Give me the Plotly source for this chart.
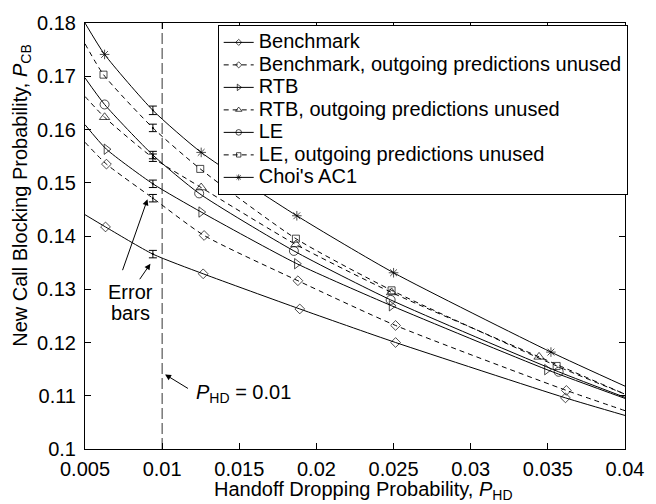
import plotly.graph_objects as go

FONT = "Liberation Sans, Arial, Helvetica, sans-serif"
FS = 20

# ---------------- data ----------------
series_names = [
    "Benchmark",
    "Benchmark, outgoing predictions unused",
    "RTB",
    "RTB, outgoing predictions unused",
    "LE",
    "LE, outgoing predictions unused",
    "Choi's AC1",
]

x_ticks = [0.005, 0.01, 0.015, 0.02, 0.025, 0.03, 0.035, 0.04]
x_tick_labels = ["0.005", "0.01", "0.015", "0.02", "0.025", "0.03", "0.035", "0.04"]
y_ticks = [0.10, 0.11, 0.12, 0.13, 0.14, 0.15, 0.16, 0.17, 0.18]
y_tick_labels = ["0.1", "0.11", "0.12", "0.13", "0.14", "0.15", "0.16", "0.17", "0.18"]

x_left = 0.005
x_right = 0.04
p_hd_target = 0.01
err_x = 0.0094

bench_mx = [0.00633, 0.01266, 0.01892, 0.02513, 0.03614]
bench_my = [0.1417, 0.1329, 0.1263, 0.1200, 0.1096]
bench_nop_mx = [0.00639, 0.01272, 0.0188, 0.02513, 0.0362]
bench_nop_my = [0.1535, 0.1401, 0.1316, 0.1232, 0.1110]
rtb_mx = [0.00639, 0.01253, 0.01873, 0.02487, 0.03494]
rtb_my = [0.1563, 0.1445, 0.1348, 0.1269, 0.1149]
rtb_nop_mx = [0.00627, 0.01253, 0.01867, 0.02487, 0.03443]
rtb_nop_my = [0.1623, 0.1491, 0.1384, 0.1294, 0.1173]
le_mx = [0.00627, 0.0124, 0.01854, 0.02481, 0.0357]
le_my = [0.1647, 0.1480, 0.1372, 0.1280, 0.1145]
le_nop_mx = [0.0062, 0.01247, 0.01867, 0.02487, 0.03557]
le_nop_my = [0.1703, 0.1526, 0.1395, 0.1298, 0.1156]
choi_mx = [0.00627, 0.01253, 0.01873, 0.0250, 0.0352]
choi_my = [0.1741, 0.1557, 0.1438, 0.1331, 0.1182]

left_y = [0.1440, 0.1576, 0.1609, 0.1662, 0.1697, 0.1761, 0.1800]
right_y = [0.1063, 0.1072, 0.1095, 0.1103, 0.1097, 0.1103, 0.1118]
err_y = [0.1366, 0.1471, 0.1498, 0.1547, 0.1552, 0.1603, 0.1636]
err_half = [0.0007, 0.0007, 0.0007, 0.0007, 0.0007, 0.0007, 0.0008]

x_title = "Handoff Dropping Probability, <i>P</i><sub>HD</sub>"
y_title = "New Call Blocking Probability, <i>P</i><sub>CB</sub>"

# ---------------- styles ----------------
marker_xs = [bench_mx, bench_nop_mx, rtb_mx, rtb_nop_mx, le_mx, le_nop_mx, choi_mx]
marker_ys = [bench_my, bench_nop_my, rtb_my, rtb_nop_my, le_my, le_nop_my, choi_my]
dashes = ["solid", "5px,4px", "solid", "5px,4px", "solid", "5px,4px", "solid"]
symbols = ["diamond-open", "diamond-open", "triangle-right-open", "triangle-up-open",
           "circle-open", "square-open", "asterisk-open"]
msizes = [7.5, 7.5, 9, 9, 9, 7, 8]

fig = go.Figure()

for i, name in enumerate(series_names):
    pts = [(x_left, left_y[i], False), (err_x, err_y[i], False), (x_right, right_y[i], False)]
    pts += [(mx, my, True) for mx, my in zip(marker_xs[i], marker_ys[i])]
    pts.sort(key=lambda p: p[0])
    xs = [p[0] for p in pts]
    ys = [p[1] for p in pts]
    sizes = [msizes[i] if p[2] else 0 for p in pts]
    fig.add_trace(go.Scatter(
        x=xs, y=ys, mode="lines+markers",
        name='<span style="font-size:%dpx">%s</span>' % (FS, name),
        line=dict(color="black", width=1, dash=dashes[i], shape="spline", smoothing=0.6),
        marker=dict(symbol=symbols[i], size=sizes, color="black",
                    line=dict(color="black", width=1)),
        hoverinfo="skip",
    ))

for i in range(len(series_names)):
    fig.add_trace(go.Scatter(
        x=[err_x], y=[err_y[i]], mode="markers", showlegend=False,
        marker=dict(size=2, color="black"),
        error_y=dict(type="data", array=[err_half[i]], visible=True,
                     color="black", thickness=1, width=4),
        hoverinfo="skip",
    ))

# vertical reference line at P_HD = 0.01
fig.add_shape(type="line", xref="x", yref="paper", x0=p_hd_target, x1=p_hd_target,
              y0=0, y1=1, layer="below",
              line=dict(color="#333333", width=1, dash="11px,4px"))

# annotations
ann_font = dict(family=FONT, size=FS, color="black")
fig.add_annotation(x=0.00792, y=0.1294, xref="x", yref="y", text="Error",
                   showarrow=False, font=ann_font)
fig.add_annotation(x=0.00792, y=0.1256, xref="x", yref="y", text="bars",
                   showarrow=False, font=ann_font)
fig.add_annotation(x=0.00905, y=0.1469, ax=0.0074, ay=0.1333, xref="x", yref="y",
                   axref="x", ayref="y", text="", showarrow=True, arrowhead=2,
                   arrowsize=1.2, arrowwidth=1, arrowcolor="black")
fig.add_annotation(x=0.00924, y=0.1348, ax=0.00848, ay=0.1316, xref="x", yref="y",
                   axref="x", ayref="y", text="", showarrow=True, arrowhead=2,
                   arrowsize=1.2, arrowwidth=1, arrowcolor="black")
fig.add_annotation(x=0.01209, y=0.1105, xref="x", yref="y", xanchor="left",
                   text="<i>P</i><sub>HD</sub> = 0.01", showarrow=False, font=ann_font)
fig.add_annotation(x=0.01019, y=0.1140, ax=0.01177, ay=0.1112, xref="x", yref="y",
                   axref="x", ayref="y", text="", showarrow=True, arrowhead=2,
                   arrowsize=1.2, arrowwidth=1, arrowcolor="black")

# axis titles (placed as paper-referenced text to match the reference layout)
fig.add_annotation(x=0.515, y=-0.064, xref="paper", yref="paper", xanchor="center",
                   yanchor="top", text=x_title, showarrow=False, font=ann_font)
fig.add_annotation(x=-0.118, y=0.595, xref="paper", yref="paper", xanchor="center",
                   yanchor="middle", text=y_title, textangle=-90, showarrow=False,
                   font=ann_font)

axis_common = dict(
    showgrid=False, zeroline=False, showline=True, linecolor="black", linewidth=1,
    mirror="ticks", ticks="inside", ticklen=6, tickwidth=1, tickcolor="black",
    tickfont=dict(family=FONT, size=FS, color="black"),
    ticklabeloverflow="allow",
)

fig.update_xaxes(range=[x_left, x_right], tickvals=x_ticks, ticktext=x_tick_labels,
                 ticklabelstandoff=2, **axis_common)
fig.update_yaxes(range=[0.10, 0.18], tickvals=y_ticks, ticktext=y_tick_labels,
                 ticklabelstandoff=4, **axis_common)

fig.update_layout(
    width=656, height=504,
    margin=dict(l=85, r=18, t=14, b=55),
    paper_bgcolor="white", plot_bgcolor="white",
    font=dict(family=FONT, size=FS, color="black"),
    showlegend=True,
    legend=dict(x=1.005, y=0.995, xanchor="right", yanchor="top",
                bgcolor="white", bordercolor="black", borderwidth=1,
                font=dict(family=FONT, size=15, color="black"),
                tracegroupgap=0),
)

fig.write_html("out.html")
